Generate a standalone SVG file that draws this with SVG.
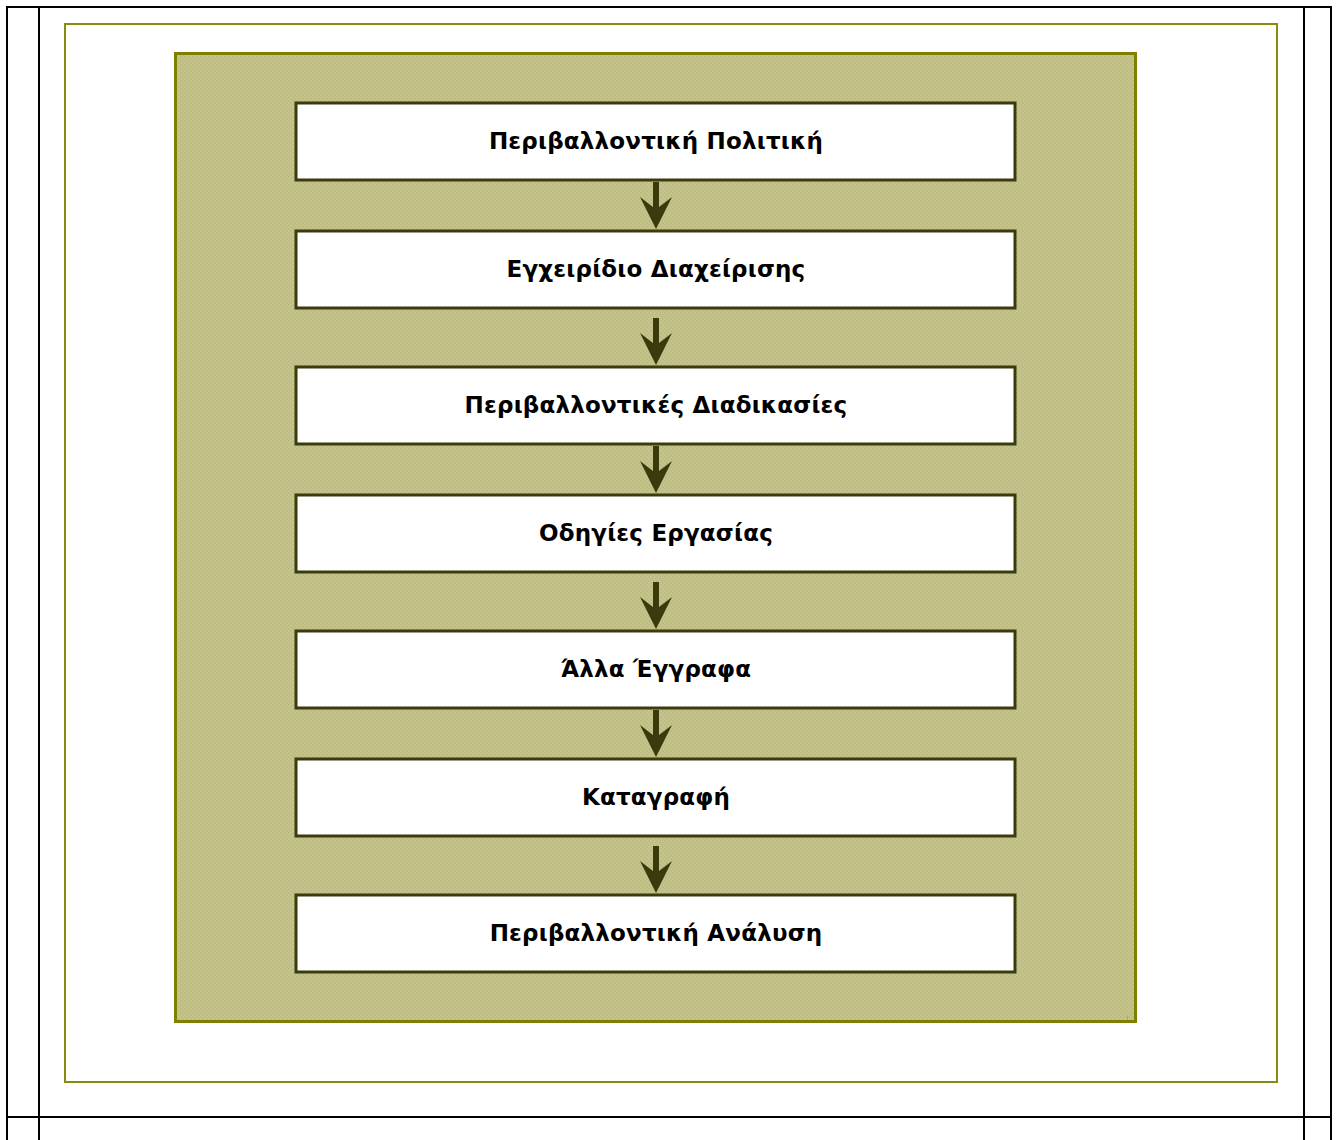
<svg xmlns="http://www.w3.org/2000/svg" width="1336" height="1140" viewBox="0 0 1336 1140">
<defs>
<pattern id="chk" width="4" height="4" patternUnits="userSpaceOnUse">
<rect width="4" height="4" fill="#c5c48c"/>
<rect width="2" height="2" fill="#bdbc82"/>
<rect x="2" y="2" width="2" height="2" fill="#bdbc82"/>
</pattern>
<polygon id="arr" points="-3,0 3,0 3,25 16,15 0,47 -16,15 -3,25"/>
</defs>
<style>
.tbl{stroke:#000;stroke-width:2;fill:none}
.box{fill:#fff;stroke:#3b3b0e;stroke-width:3}
.lbl{font-family:"DejaVu Sans","Liberation Sans",sans-serif;font-weight:bold;font-size:23px;letter-spacing:0.2px;fill:#000;text-anchor:middle}
.arrow{fill:#3a3a0c}
</style>
<rect width="1336" height="1140" fill="#fff"/>
<g id="table">
<line class="tbl" x1="6" y1="7" x2="1332" y2="7"/>
<line class="tbl" x1="6" y1="1117" x2="1332" y2="1117"/>
<line class="tbl" x1="7" y1="6" x2="7" y2="1140"/>
<line class="tbl" x1="39" y1="6" x2="39" y2="1140"/>
<line class="tbl" x1="1304" y1="6" x2="1304" y2="1140"/>
<line class="tbl" x1="1331" y1="6" x2="1331" y2="1140"/>
</g>
<rect id="frame" x="65" y="24" width="1212" height="1058" fill="none" stroke="#8a8a10" stroke-width="2"/>
<rect id="panel" x="175.5" y="53.5" width="960" height="968" fill="url(#chk)" stroke="#808000" stroke-width="3"/>
<line x1="1127.5" y1="1016" x2="1127.5" y2="1020" stroke="#a8a770" stroke-width="1"/>
<g id="connectors" class="arrow">
<use href="#arr" x="656" y="182"/>
<use href="#arr" x="656" y="318"/>
<use href="#arr" x="656" y="446"/>
<use href="#arr" x="656" y="582"/>
<use href="#arr" x="656" y="710"/>
<use href="#arr" x="656" y="846"/>
</g>
<g id="n1"><rect class="box" x="296" y="103" width="719" height="77"/><text class="lbl" x="656" y="149">Περιβαλλοντική Πολιτική</text></g>
<g id="n2"><rect class="box" x="296" y="231" width="719" height="77"/><text class="lbl" x="656" y="277">Εγχειρίδιο Διαχείρισης</text></g>
<g id="n3"><rect class="box" x="296" y="367" width="719" height="77"/><text class="lbl" x="656" y="413">Περιβαλλοντικές Διαδικασίες</text></g>
<g id="n4"><rect class="box" x="296" y="495" width="719" height="77"/><text class="lbl" x="656" y="541">Οδηγίες Εργασίας</text></g>
<g id="n5"><rect class="box" x="296" y="631" width="719" height="77"/><text class="lbl" x="656" y="677">Άλλα Έγγραφα</text></g>
<g id="n6"><rect class="box" x="296" y="759" width="719" height="77"/><text class="lbl" x="656" y="805">Καταγραφή</text></g>
<g id="n7"><rect class="box" x="296" y="895" width="719" height="77"/><text class="lbl" x="656" y="941">Περιβαλλοντική Ανάλυση</text></g>
</svg>
